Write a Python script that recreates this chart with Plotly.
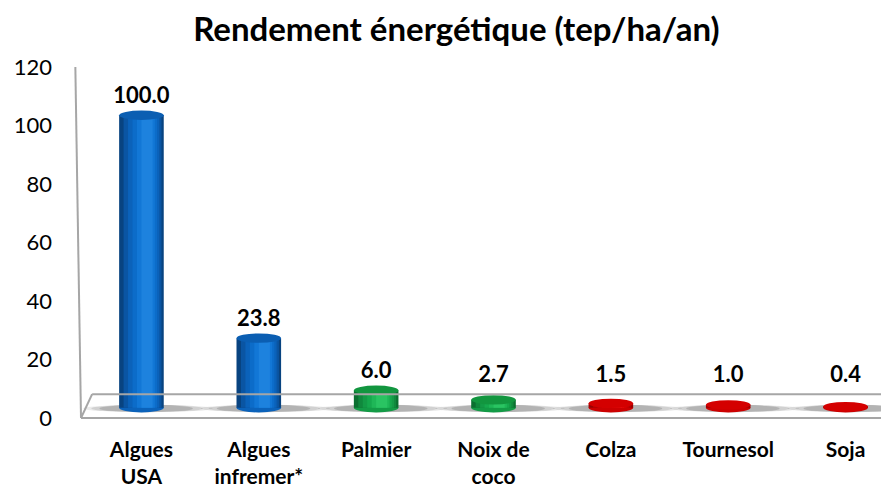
import plotly.graph_objects as go

# data
categories = ["Algues<br>USA", "Algues<br>infremer*", "Palmier", "Noix de<br>coco",
              "Colza", "Tournesol", "Soja"]
values = [100.0, 23.8, 6.0, 2.7, 1.5, 1.0, 0.4]
groups = ["algue", "algue", "tropical", "tropical", "temperate", "temperate", "temperate"]

# cylinder shading per group, from the edge inwards, plus the top cap colour
shades = {
    "algue": ["#084380", "#0a55a3", "#0b62ba", "#0c6cc9", "#1277d6", "#1d82de"],
    "tropical": ["#0b6f30", "#10893d", "#139b46", "#16a94d", "#1fb757", "#2ac462"],
    "temperate": ["#9a0000", "#b80000", "#cc0000", "#dc0000", "#ea0a0a", "#f51a1a"],
}
caps = {"algue": "#0b5eb2", "tropical": "#12963f", "temperate": "#d40000"}

FLOOR = 3.5      # 3D floor lift (data units)
BAR_W = 0.38
CAP_H = 1.6      # half height of the ellipse caps
LABEL_MIN = 10.5 # labels never sit below the back edge of the floor
FONT = "Lato"

x = list(range(len(categories)))
tops = [FLOOR + v for v in values]

fig = go.Figure()

# soft shadows on the floor
for k, (sx, alpha) in enumerate([(1.45, 0.10), (1.25, 0.14), (1.05, 0.2)]):
    for i in x:
        fig.add_shape(type="circle", xref="x", yref="y",
                      x0=i - BAR_W * sx * 0.9, x1=i + BAR_W * sx * 1.1,
                      y0=FLOOR - 1.5, y1=FLOOR + 1.0,
                      fillcolor=f"rgba(60,60,60,{alpha})", line_width=0, layer="below")

# bottom rounded edge
for i, g in enumerate(groups):
    fig.add_shape(type="circle", xref="x", yref="y",
                  x0=i - BAR_W / 2, x1=i + BAR_W / 2,
                  y0=FLOOR - CAP_H, y1=FLOOR + CAP_H,
                  fillcolor=shades[g][2], line_width=0, layer="below")

# body layers, narrower and lighter towards a highlight right of centre
n = len(shades["algue"])
for k in range(n):
    wfrac = 1.0 - k * 0.15
    off = k * 0.025
    fig.add_trace(go.Bar(
        x=x, y=values, base=[FLOOR] * len(values),
        width=BAR_W * wfrac,
        offset=[-BAR_W * wfrac / 2 + off * BAR_W] * len(values),
        marker_color=[shades[g][k] for g in groups],
        marker_line_width=0, hoverinfo="skip", showlegend=False,
    ))

# top caps
for i, g in enumerate(groups):
    fig.add_shape(type="circle", xref="x", yref="y",
                  x0=i - BAR_W / 2, x1=i + BAR_W / 2,
                  y0=tops[i] - CAP_H, y1=tops[i] + CAP_H,
                  fillcolor=caps[g], line_width=0)

# value labels
fig.add_trace(go.Scatter(
    x=x, y=[max(t + CAP_H + 0.8, LABEL_MIN) for t in tops], mode="text",
    text=[f"<b>{v:.1f}</b>" for v in values], textposition="top center",
    textfont=dict(family=FONT, size=22, color="black"),
    hoverinfo="skip", showlegend=False,
))

# floor and walls (paper coordinates)
line = dict(color="#a6a6a6", width=2)
fig.add_shape(type="line", xref="paper", yref="paper", x0=-0.007, y0=1.0, x1=0.0, y1=0.0, line=line)
fig.add_shape(type="line", xref="paper", yref="paper", x0=0.0, y0=0.0, x1=1.0, y1=0.0, line=line)
fig.add_shape(type="line", xref="paper", yref="paper", x0=0.0, y0=0.0, x1=0.0138, y1=0.068, line=line)
fig.add_shape(type="line", xref="paper", yref="paper", x0=0.0138, y0=0.068, x1=1.0, y1=0.068, line=line)

# the page body adds an 8px offset, so the figure is 8px smaller
fig.update_layout(
    width=881, height=480,
    margin=dict(l=73, r=0, t=59, b=70),
    paper_bgcolor="white", plot_bgcolor="white",
    barmode="overlay",
    title=dict(text="<b>Rendement énergétique (tep/ha/an)</b>", x=0.509, xanchor="center",
               y=1 - 21 / 480, yanchor="middle",
               font=dict(family=FONT, size=33, color="black")),
    xaxis=dict(range=[-0.515, 6.37], tickvals=x, ticktext=[f"<b>{c}</b>" for c in categories],
               showgrid=False, zeroline=False, showline=False, ticks="",
               ticklabelstandoff=17,
               tickfont=dict(family=FONT, size=21, color="black")),
    yaxis=dict(range=[0, 120], dtick=20, showgrid=False, zeroline=False, showline=False,
               ticks="", ticklabelstandoff=28,
               tickfont=dict(family=FONT, size=22, color="black")),
)

fig.write_html("out.html")
